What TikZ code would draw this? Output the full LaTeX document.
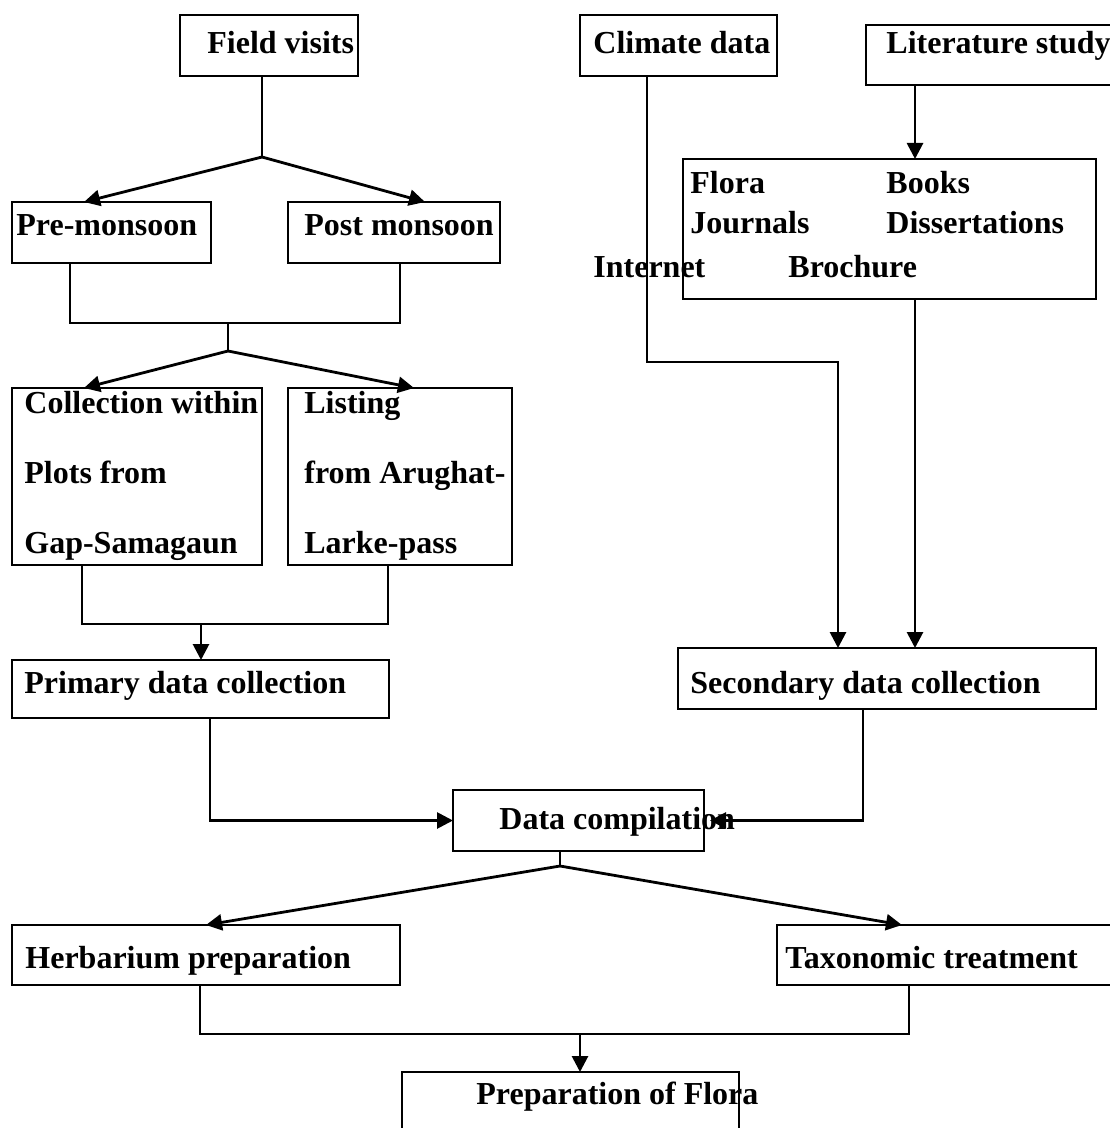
\documentclass[tikz,border=0pt]{standalone}
\usepackage{fontspec}
\setmainfont{Liberation Serif}
\usetikzlibrary{arrows.meta, fit, calc}

\begin{document}
\begin{tikzpicture}[
    x=0.5pt, y=-0.5pt,
    >={Triangle[length=8pt, width=8pt]},
    box/.style={draw, line width=0.9pt, inner sep=0pt, outer sep=0pt},
    txt/.style={font=\fontsize{16}{19}\selectfont\bfseries, anchor=base west, inner sep=0pt, align=left},
    link/.style={draw, line width=0.8pt},
    flow/.style={->, line width=1.4pt},
  ]
  \useasboundingbox (0,0) rectangle (1109,1128);
  % ------------------------------------------------------------------ boxes
  \node[box, fit={(180,15) (358,76)}] (fv) {};
  \node[txt] (fvt) at (207,54) {Field visits};
  \node[box, fit={(12,202) (211,263)}] (pre) {};
  \node[txt] (pret) at (16,236) {Pre-monsoon};
  \node[box, fit={(288,202) (500,263)}] (post) {};
  \node[txt] (postt) at (304,236) {Post monsoon};
  \node[box, fit={(12,388) (262,565)}] (col) {};
  \node[txt] (colt) at (24,553) {Collection within\\[16pt]Plots from\\[16pt]Gap-Samagaun};
  \node[box, fit={(288,388) (512,565)}] (lst) {};
  \node[txt] (lstt) at (304,553) {Listing\\[16pt]from Arughat-\\[16pt]Larke-pass};
  \node[box, fit={(12,660) (389,718)}] (prim) {};
  \node[txt] (primt) at (24,693) {Primary data collection};
  \node[box, fit={(580,15) (777,76)}] (clim) {};
  \node[txt] (climt) at (593,54) {Climate data};
  \node[box, fit={(866,25) (1125,85)}] (lit) {};
  \node[txt] (litt) at (886,54) {Literature study};
  \node[box, fit={(683,159) (1096,299)}] (src) {};
  \foreach \word/\x/\y [count=\i] in {Flora/690/194, Books/886/194, Journals/690/234,
      Dissertations/886/234, Internet/593/278, Brochure/788/278} {
    \node[txt] (srct\i) at (\x,\y) {\word};
  }
  \node[box, fit={(678,648) (1096,709)}] (sec) {};
  \node[txt] (sect) at (690,693) {Secondary data collection};
  \node[box, fit={(453,790) (704,851)}] (dc) {};
  \node[txt] (dct) at (499,829) {Data compilation};
  \node[box, fit={(12,925) (400,985)}] (herb) {};
  \node[txt] (herbt) at (25,968) {Herbarium preparation};
  \node[box, fit={(777,925) (1125,985)}] (tax) {};
  \node[txt] (taxt) at (785,968) {Taxonomic treatment};
  \node[box, fit={(402,1072) (739,1140)}] (flo) {};
  \node[txt] (flot) at (476,1104) {Preparation of Flora};
  % ------------------------------------------------------------------ field work branch
  \coordinate (j1) at (262,157);
  \draw[link] (j1 |- fv.south) -- (j1);
  \draw[flow] (j1) -- ($(pre.north west)+(72,0)$);
  \draw[flow] (j1) -- ($(post.north west)+(137,0)$);
  \draw[link] ($(pre.south west)+(58,0)$) -- ++(0,60) -| ($(post.south west)+(112,0)$);
  \coordinate (m1) at (228,323);
  \coordinate (j2) at (228,351);
  \draw[link] (m1) -- (j2);
  \draw[flow] (j2) -- ($(col.north west)+(72,0)$);
  \draw[flow] (j2) -- ($(lst.north west)+(126,0)$);
  \draw[link] ($(col.south west)+(70,0)$) -- ++(0,59) -| ($(lst.south west)+(100,0)$);
  \coordinate (m2) at (201,624);
  \draw[flow] (m2) -- (m2 |- prim.north);
  \draw[flow] ($(prim.south west)+(198,0)$) |- (dc.west);
  % ------------------------------------------------------------------ literature branch
  \draw[flow] ($(clim.south west)+(67,0)$) -- ++(0,286) -| ($(sec.north west)+(160,0)$);
  \draw[flow] ($(lit.south west)+(49,0)$) -- ($(src.north west)+(232,0)$);
  \draw[flow] ($(src.south west)+(232,0)$) -- ($(sec.north west)+(237,0)$);
  \draw[flow] ($(sec.south west)+(185,0)$) |- ($(dc.east)+(6,0)$);
  % ------------------------------------------------------------------ compilation to flora
  \coordinate (j3) at (560,866);
  \draw[link] ($(dc.south west)+(107,0)$) -- (j3);
  \draw[flow] (j3) -- ($(herb.north west)+(194,0)$);
  \draw[flow] (j3) -- ($(tax.north west)+(125,0)$);
  \draw[link] ($(herb.south west)+(188,0)$) -- ++(0,49) -| ($(tax.south west)+(132,0)$);
  \coordinate (m3) at (580,1034);
  \draw[flow] (m3) -- (m3 |- flo.north);
\end{tikzpicture}
\end{document}
